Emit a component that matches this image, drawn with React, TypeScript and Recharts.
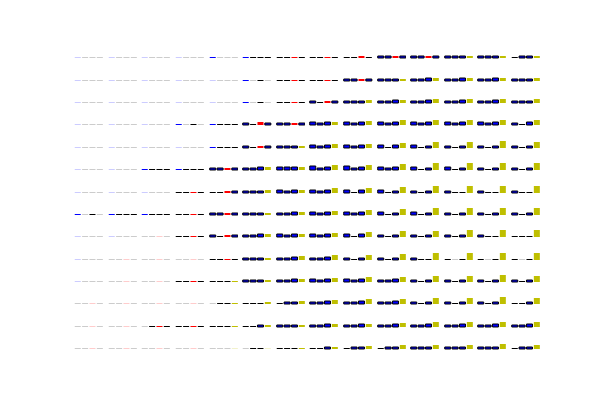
import { BarChart, Bar, XAxis, YAxis, Cell } from 'recharts'

// Grid of 14 x 14 small bar charts, 4 bars each.
// Each token = kind letter + bar height (px units): q faint blue, g faint grey, p faint red,
// e faint yellow, B blue, k black, r red, n blue bar with black edge, y yellow.
const ROW_01 = ['q1 g1 g1 g1', 'q1 g1 g1 g1', 'q1 g1 g1 g1', 'q1 g1 g1 g1', 'B1 g1 g1 g1', 'B1 k1 k1 k1', 'k1 k1 r1 k1', 'k1 k1 r1 k1', 'k1 k1 r2 k1', 'n2 n2 r2 n2', 'n2 n2 r2 n2', 'n2 n2 n2 y2', 'n2 n2 n2 y2', 'k1 n2 n2 y2']
const ROW_02 = ['q1 g1 g1 g1', 'q1 g1 g1 g1', 'q1 g1 g1 g1', 'q1 g1 g1 g1', 'q1 g1 g1 g1', 'B1 g1 k1 g1', 'k1 k1 r1 k1', 'k1 k1 r1 k1', 'n2 n2 r2 n2', 'n2 n2 n2 y2', 'n2 n2 n3 y3', 'n2 n2 n3 y3', 'n2 n2 n3 y3', 'n2 n2 n2 y3']
const ROW_03 = ['q1 g1 g1 g1', 'q1 g1 g1 g1', 'q1 g1 g1 g1', 'q1 g1 g1 g1', 'q1 g1 g1 g1', 'B1 g1 k1 g1', 'k1 k1 r1 k1', 'n2 k1 r2 n2', 'n2 n2 n2 y3', 'n2 n2 n3 y3', 'n2 n2 n3 y4', 'n2 n2 n3 y4', 'n2 n2 n3 y4', 'n2 n2 n2 y4']
const ROW_04 = ['q1 g1 g1 g1', 'q1 g1 g1 g1', 'q1 g1 g1 g1', 'B1 g1 k1 g1', 'B1 k1 k1 k1', 'n2 k1 r3 n2', 'n2 n2 r2 n2', 'n3 n2 n3 y3', 'n3 n2 n3 y4', 'n3 n2 n3 y5', 'n3 n2 n3 y5', 'n3 n2 n3 y5', 'n3 n2 n3 y5', 'n2 k1 n3 y5']
const ROW_05 = ['q1 g1 g1 g1', 'q1 g1 g1 g1', 'q1 g1 g1 g1', 'q1 g1 g1 g1', 'B1 k1 k1 k1', 'n2 k1 r2 n2', 'n2 n2 n2 y2', 'n3 n2 n3 y4', 'n3 n2 n3 y4', 'n3 k1 n3 y5', 'n3 k1 n2 y6', 'n2 k1 n2 y6', 'n2 k1 n2 y7', 'n2 k1 n2 y6']
const ROW_06 = ['q1 g1 g1 g1', 'q1 g1 g1 g1', 'B1 k1 k1 k1', 'B1 k1 k1 k1', 'n2 n2 r2 n2', 'n2 n2 n3 y3', 'n3 n3 n3 y3', 'n4 n2 n3 y5', 'n4 n2 n3 y5', 'n3 n2 n3 y6', 'n3 k1 n2 y7', 'n3 k1 n2 y7', 'n2 k1 n2 y7', 'n2 k1 n2 y7']
const ROW_07 = ['q1 g1 g1 g1', 'q1 g1 g1 g1', 'q1 g1 g1 g1', 'k1 k1 r1 k1', 'k1 k1 r2 n2', 'n2 n2 n2 y3', 'n3 n2 n3 y3', 'n3 n2 n3 y5', 'n3 k1 n3 y5', 'n3 k1 n2 y6', 'n2 k1 n2 y7', 'n2 k1 k1 y7', 'n2 k1 k1 y7', 'n2 k1 k1 y7']
const ROW_08 = ['B1 g1 k1 g1', 'B1 k1 k1 k1', 'B1 k1 k1 k1', 'k1 k1 r1 k1', 'n2 n2 r2 n2', 'n2 n2 n2 y2', 'n2 n2 n3 y3', 'n3 n2 n3 y4', 'n3 n2 n3 y5', 'n3 k1 n2 y6', 'n3 k1 n2 y7', 'n2 k1 n2 y7', 'n2 k1 n2 y7', 'n2 k1 n2 y7']
const ROW_09 = ['q1 g1 g1 g1', 'q1 g1 g1 g1', 'g1 g1 p1 g1', 'k1 k1 r1 k1', 'n2 k1 r2 n2', 'n2 n2 n3 y3', 'n3 n2 n3 y3', 'n3 n2 n3 y4', 'n3 k1 n3 y5', 'n2 k1 n2 y6', 'n2 k1 n2 y6', 'n2 k1 n2 y7', 'n2 k1 k1 y7', 'k1 k1 k1 y7']
const ROW_10 = ['q1 g1 g1 g1', 'g1 g1 p1 g1', 'g1 g1 p1 g1', 'g1 g1 p1 g1', 'k1 k1 r1 k1', 'n2 n2 n2 y2', 'n2 n2 n3 y4', 'n2 n2 n3 y5', 'n2 k1 n2 y5', 'n2 k1 n2 y6', 'n2 k1 k1 y7', 'k1 g1 k1 y7', 'k1 g1 k1 y7', 'k1 g1 k1 y7']
const ROW_11 = ['q1 g1 g1 g1', 'g1 g1 p1 g1', 'g1 g1 p1 g1', 'k1 k1 r1 k1', 'k1 k1 k1 y1', 'n2 n2 n2 y2', 'n2 n2 n3 y3', 'n3 n2 n3 y4', 'n3 n2 n3 y5', 'n2 n2 n3 y5', 'n2 k1 n2 y6', 'n2 k1 n2 y6', 'n2 k1 n2 y7', 'n2 k1 n2 y6']
const ROW_12 = ['g1 g1 p1 g1', 'g1 g1 p1 g1', 'g1 g1 p1 g1', 'g1 g1 p1 g1', 'g1 k1 k1 y1', 'k1 k1 k1 y2', 'k1 n2 n2 y3', 'n2 n2 n3 y4', 'n2 n2 n3 y5', 'n2 n2 n3 y5', 'n2 k1 n2 y6', 'n2 k1 n2 y6', 'n2 k1 n2 y7', 'k1 k1 n2 y6']
const ROW_13 = ['g1 g1 p1 g1', 'g1 g1 p1 g1', 'g1 k1 r1 k1', 'k1 k1 r1 k1', 'k1 k1 k1 y1', 'k1 k1 n2 y2', 'n2 n2 n2 y2', 'n2 n2 n3 y3', 'n2 n2 n3 y3', 'n2 n2 n3 y4', 'n2 n2 n3 y5', 'n2 n2 n3 y5', 'n2 n2 n3 y5', 'n2 n2 n3 y5']
const ROW_14 = ['g1 g1 p1 g1', 'g1 g1 p1 g1', 'g1 g1 p1 g1', 'g1 g1 p1 g1', 'g1 g1 g1 e1', 'g1 k1 k1 e1', 'k1 k1 k1 y1', 'k1 k1 n2 y2', 'k1 n2 n2 y3', 'k1 n2 n2 y4', 'n2 n2 n2 y4', 'n2 n2 n2 y4', 'n2 n2 n2 y5', 'k1 n2 n2 y4']

const ROWS = [ROW_01, ROW_02, ROW_03, ROW_04, ROW_05, ROW_06, ROW_07, ROW_08, ROW_09, ROW_10, ROW_11, ROW_12, ROW_13, ROW_14]

const KIND: Record<string, { fill: string; stroke: string; sw: number }> = {
  q: { fill: '#ccccff', stroke: 'none', sw: 0 },
  g: { fill: '#cccccc', stroke: 'none', sw: 0 },
  p: { fill: '#ffcccc', stroke: 'none', sw: 0 },
  e: { fill: '#f2f2cc', stroke: 'none', sw: 0 },
  B: { fill: '#0000ff', stroke: 'none', sw: 0 },
  k: { fill: '#000000', stroke: 'none', sw: 0 },
  r: { fill: '#ff0000', stroke: 'none', sw: 0 },
  n: { fill: '#0000ff', stroke: '#000000', sw: 1 },
  y: { fill: '#bfbf00', stroke: 'none', sw: 0 },
}

const X0 = 75
const X_STEP = 33.6
const AX_W = 28
const CELL_W = (AX_W * 4) / 3.8
const BASE_Y0 = 58.3
const Y_STEP = 22.38
const CELL_H = 20

function Mini({ cell, left, top }: { cell: string; left: number; top: number }) {
  const data = cell.split(' ').map((t, i) => ({ k: i, kind: t[0], v: Number(t.slice(1)) }))
  return (
    <div style={{ position: 'absolute', left, top, width: CELL_W, height: CELL_H }}>
      <BarChart width={CELL_W} height={CELL_H} data={data} margin={{ top: 0, right: 0, bottom: 0, left: 0 }} barCategoryGap="10%">
        <XAxis dataKey="k" hide />
        <YAxis hide type="number" domain={[-10, 10]} />
        <Bar dataKey="v" isAnimationActive={false}>
          {data.map((d) => (
            <Cell key={d.k} fill={KIND[d.kind].fill} stroke={KIND[d.kind].stroke} strokeWidth={KIND[d.kind].sw} />
          ))}
        </Bar>
      </BarChart>
    </div>
  )
}

export default function App() {
  return (
    <div style={{ position: 'absolute', left: 0, top: 0, width: 600, height: 400, background: 'white', overflow: 'hidden' }}>
      {ROWS.map((row, r) =>
        row.map((cell, c) => (
          <Mini
            key={`${r}-${c}`}
            cell={cell}
            left={X0 + c * X_STEP - (CELL_W - AX_W) / 2}
            top={BASE_Y0 + r * Y_STEP - CELL_H / 2}
          />
        ))
      )}
    </div>
  )
}
